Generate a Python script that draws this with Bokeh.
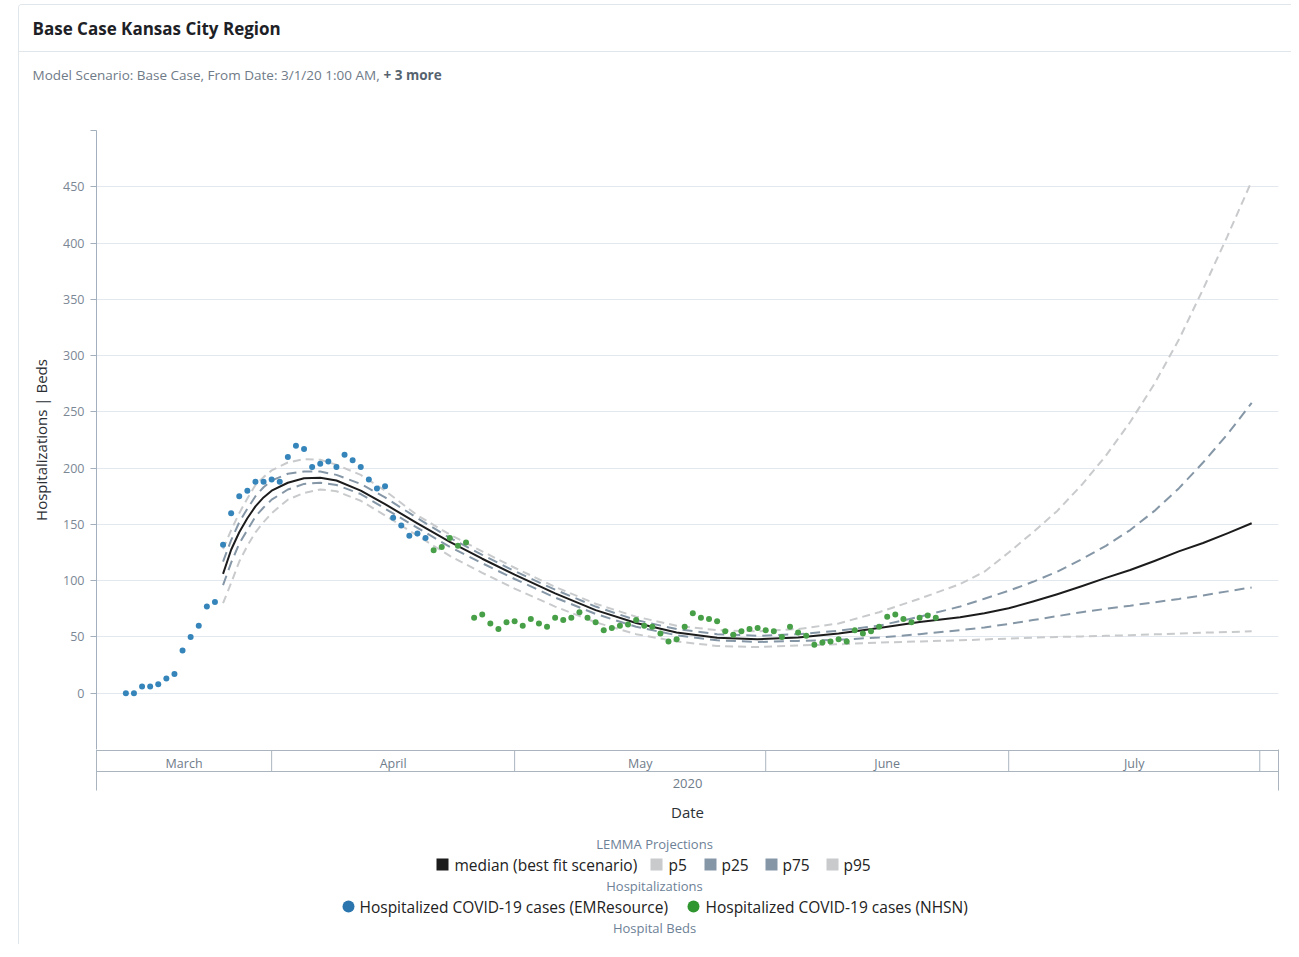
import pandas as pd
from datetime import datetime
from bokeh.plotting import figure
from bokeh.layouts import column
from bokeh.models import Range1d, FixedTicker, LinearAxis, ColumnDataSource
from bokeh.core.properties import value
from bokeh.embed import file_html
from bokeh.resources import INLINE

# ---------------- data ----------------
TITLE = "Base Case Kansas City Region"
SUBTITLE = "Model Scenario: Base Case, From Date: 3/1/20 1:00 AM,"
SUBTITLE_MORE = "+ 3 more"
Y_LABEL = "Hospitalizations | Beds"
X_LABEL = "Date"
YEAR_LABEL = "2020"

X_START = datetime(2020, 3, 10, 9, 0)
X_END = datetime(2020, 8, 3, 7, 30)
Y_TICKS = [-50, 0, 50, 100, 150, 200, 250, 300, 350, 400, 450, 500]
Y_UNLABELED = [-50, 500]

MONTH_NAMES = ["March", "April", "May", "June", "July"]
MONTH_STARTS = ["2020-03-01", "2020-04-01", "2020-05-01", "2020-06-01", "2020-07-01", "2020-08-01"]

EMR_START = "2020-03-14"
EMR_VALUES = [0, 0, 6, 6, 8, 13, 17, 38, 50, 60, 77, 81, 132, 160, 175, 180, 188, 188, 190, 188,
              210, 220, 217, 201, 204, 206, 201, 212, 207, 201, 190, 182, 184, 156, 149, 140, 142, 138]

NHSN_START = "2020-04-21"
NHSN_VALUES = [127, 130, 138, 131, 134, 67, 70, 62, 57, 63, 64, 60, 66, 62, 59, 67, 65, 67, 72, 67,
               63, 56, 58, 60, 61, 65, 60, 59, 53, 46, 48, 59, 71, 67, 66, 64, 55, 52, 55, 57,
               58, 56, 55, 50, 59, 54, 51, 43, 45, 46, 48, 46, 56, 53, 55, 59, 68, 70, 66, 63,
               67, 69, 67]

CURVE_DATES = ["2020-03-26", "2020-03-27", "2020-03-28", "2020-03-29", "2020-03-30", "2020-03-31",
               "2020-04-01", "2020-04-03", "2020-04-05", "2020-04-07", "2020-04-09", "2020-04-12",
               "2020-04-15", "2020-04-19", "2020-04-23", "2020-04-27",
               "2020-05-01", "2020-05-06", "2020-05-11", "2020-05-16", "2020-05-21", "2020-05-26",
               "2020-05-31",
               "2020-06-05", "2020-06-10", "2020-06-15", "2020-06-20", "2020-06-25", "2020-06-28",
               "2020-07-01", "2020-07-04", "2020-07-07", "2020-07-10", "2020-07-13", "2020-07-16",
               "2020-07-19", "2020-07-22", "2020-07-25", "2020-07-28", "2020-07-31"]
MEDIAN = [106, 127.5, 143, 155.5, 166, 174,
          180, 187, 191, 191.5, 189, 180, 168, 151, 134.5, 119.5,
          105.3, 88.7, 73.8, 62.4, 54, 49.3, 47.9,
          49.5, 53, 58, 63.3, 67.5, 71,
          75.5, 81.5, 88, 95, 102.5, 109.5, 117.5, 126, 133.5, 142, 151]
P95 = [128, 145, 160, 173, 185, 192,
       198, 205, 208, 207.5, 203, 194, 180, 158, 141, 126,
       111.5, 94.5, 79.5, 68, 60, 56, 55,
       57, 62, 72, 84, 97, 108,
       125, 143, 162, 185, 211, 241, 275, 314, 359, 406, 455]
P75 = [117, 136, 152, 164, 175, 183,
       189, 195, 197, 197, 194, 186, 174, 155.5, 138, 123,
       108.5, 92, 77, 65, 57, 52.5, 51,
       52.5, 55.5, 60, 68, 77, 84,
       91, 99, 108, 119, 131, 145, 162, 182, 205, 230, 258]
P25 = [96, 116, 133, 145, 157, 165,
       172, 181, 186, 187, 185, 177, 164, 147, 130, 115.5,
       101.5, 85, 70.5, 59, 51.5, 47, 45.5,
       46.5, 47.5, 49.5, 52.5, 56, 58.5,
       61.5, 65, 68.5, 72, 75, 77.8, 80.8, 83.8, 86.9, 90.5, 94]
P5 = [80, 98, 117, 131, 143, 152,
      160, 172, 178, 181, 179.5, 171, 158, 140, 122, 107,
      93, 77, 63, 52.5, 46, 42, 41,
      42.5, 43.5, 45, 46, 47, 47.8,
      48.6, 49.3, 50, 50.5, 51, 51.5, 52.3, 53, 53.8, 54.4, 55]

GROUP_TITLES = ["LEMMA Projections", "Hospitalizations", "Hospital Beds"]
PROJ_LABELS = ["median (best fit scenario)", "p5", "p25", "p75", "p95"]
HOSP_LABELS = ["Hospitalized COVID-19 cases (EMResource)", "Hospitalized COVID-19 cases (NHSN)"]

# ---------------- style ----------------
FONT_NAME = "Open Sans"
FONT = value(FONT_NAME)
BLUE = "#3585bb"
GREEN = "#47a047"
MED_C = "#1c1c1c"
DARK = "#8597a7"
LIGHT = "#c8cacc"
GRID = "#e3e8ee"
AXIS = "#a3afbc"
TICK_TXT = "#7b8794"
BOX = "#aab4bf"
GROUP_C = "#6d8196"
SEP = "#e1e6eb"

W = 1272
LB, RB = 77, 13
FRAME_X = (96, 1278)   # page pixels covered by the aligned plot frames
PAGE_X = (19, 1291)    # page pixels covered by a full-width, unaligned frame


def base(height, yr, xr=FRAME_X, lb=LB, rb=RB, **kw):
    f = figure(width=W, height=height, toolbar_location=None, output_backend="svg",
               x_axis_location=None, y_axis_location=None,
               x_range=xr if not isinstance(xr, tuple) else Range1d(*xr), y_range=Range1d(*yr),
               min_border_left=lb, min_border_right=rb, min_border_top=0, min_border_bottom=0,
               **kw)
    f.outline_line_color = None
    f.grid.grid_line_color = None
    f.background_fill_color = "white"
    f.border_fill_color = "white"
    return f


# ---------------- header (page coordinates, unaligned full-width frames) ----------------
hdr1 = base(47, (52, 5), xr=PAGE_X, lb=0, rb=0, frame_align=False,
            styles={"border-bottom": f"1px solid {SEP}"})
hdr1.text(x=[32], y=[28], text=[TITLE], text_font=FONT, text_font_style="bold",
          text_font_size="17px", text_baseline="middle", text_color="#1d2126")
hdr2 = base(47, (100, 53), xr=PAGE_X, lb=0, rb=0, frame_align=False)
hdr2.text(x=[32], y=[75], text=[SUBTITLE], text_font=FONT, text_font_size="13.5px",
          text_baseline="middle", text_color="#6f7b88")
hdr2.text(x=[383], y=[75], text=[SUBTITLE_MORE], text_font=FONT, text_font_size="13.5px",
          text_font_style="bold", text_baseline="middle", text_color="#56636f")

# ---------------- main chart ----------------
p = figure(width=W, height=650, x_range=Range1d(X_START, X_END), y_range=Range1d(-50, 500),
           x_axis_type="datetime", x_axis_location=None, toolbar_location=None,
           output_backend="svg", min_border_left=LB, min_border_right=RB,
           min_border_top=31, min_border_bottom=0)
p.outline_line_color = None
p.background_fill_color = "white"
p.xgrid.grid_line_color = None
p.ygrid.ticker = FixedTicker(ticks=Y_TICKS)
p.ygrid.grid_line_color = GRID
p.ygrid.grid_line_width = 1

ya = p.yaxis[0]
ya.ticker = FixedTicker(ticks=Y_TICKS)
ya.major_label_overrides = {t: "" for t in Y_UNLABELED}
ya.axis_line_color = AXIS
ya.major_tick_line_color = AXIS
ya.major_tick_out = 6
ya.major_tick_in = 0
ya.minor_tick_line_color = None
ya.major_label_standoff = 6
ya.major_label_text_font = FONT_NAME
ya.major_label_text_font_size = "12.5px"
ya.major_label_text_color = TICK_TXT
ya.axis_label = Y_LABEL
ya.axis_label_text_font = FONT_NAME
ya.axis_label_text_font_size = "15px"
ya.axis_label_text_font_style = "normal"
ya.axis_label_text_color = "#2a2e33"
ya.axis_label_standoff = 9

src = ColumnDataSource(dict(date=pd.to_datetime(CURVE_DATES), median=MEDIAN,
                            p5=P5, p25=P25, p75=P75, p95=P95))
p.line("date", "p95", source=src, line_color=LIGHT, line_width=2, line_dash="8 5")
p.line("date", "p5", source=src, line_color=LIGHT, line_width=2, line_dash="8 5")
p.line("date", "p75", source=src, line_color=DARK, line_width=2, line_dash="10 6")
p.line("date", "p25", source=src, line_color=DARK, line_width=2, line_dash="10 6")
p.line("date", "median", source=src, line_color=MED_C, line_width=2, line_join="round")

emr_dates = pd.date_range(EMR_START, periods=len(EMR_VALUES), freq="D")
nhsn_dates = pd.date_range(NHSN_START, periods=len(NHSN_VALUES), freq="D")
p.scatter(emr_dates, EMR_VALUES, size=6, fill_color=BLUE, line_color=None)
p.scatter(nhsn_dates, NHSN_VALUES, size=6, fill_color=GREEN, line_color=None)

# ---------------- month / year axis ----------------
ax = base(80, (80, 0), xr=p.x_range)
for loc in ("left", "right"):
    a = LinearAxis(ticker=FixedTicker(ticks=[]), bounds=(0, 41), axis_line_color=BOX,
                   major_tick_line_color=None, minor_tick_line_color=None,
                   major_label_text_font_size="0px")
    ax.add_layout(a, loc)

mb = list(pd.to_datetime(MONTH_STARTS))
xs, xe = pd.Timestamp(X_START), pd.Timestamp(X_END)
inner = [d for d in mb if xs < d < xe]
ax.segment(x0=inner, y0=[1] * len(inner), x1=inner, y1=[22] * len(inner),
           line_color=BOX, line_width=1)
ax.segment(x0=[xs, xs], y0=[1, 22], x1=[xe, xe], y1=[1, 22], line_color=BOX, line_width=1)

mid = []
for i in range(len(MONTH_NAMES)):
    a0 = max(mb[i], xs)
    a1 = min(mb[i + 1], xe)
    mid.append(a0 + (a1 - a0) / 2)
ax.text(x=mid, y=[14] * len(mid), text=MONTH_NAMES, text_font=FONT, text_font_size="12.5px",
        text_align="center", text_baseline="middle", text_color="#6f7c8a")
center = xs + (xe - xs) / 2
ax.text(x=[center], y=[34], text=[YEAR_LABEL], text_font=FONT, text_font_size="13px",
        text_align="center", text_baseline="middle", text_color="#6f7c8a")
ax.text(x=[center], y=[62.5], text=[X_LABEL], text_font=FONT, text_font_size="15px",
        text_align="center", text_baseline="middle", text_color="#2c3136")

# ---------------- legend (page coordinates) ----------------
leg = base(115, (945, 830))
leg.text(x=[654] * 3, y=[844, 886, 928], text=GROUP_TITLES, text_font=FONT, text_font_size="13px",
         text_align="center", text_baseline="middle", text_color=GROUP_C)

proj_colors = [MED_C, LIGHT, DARK, DARK, LIGHT]
proj_sw = [442, 656, 710, 771, 832]
proj_tx = [454, 668, 721, 782, 843]
leg.scatter(x=proj_sw, y=[865] * 5, marker="square", size=12, fill_color=proj_colors, line_color=None)
leg.text(x=proj_tx, y=[865] * 5, text=PROJ_LABELS, text_font=FONT, text_font_size="15.5px",
         text_baseline="middle", text_color="#222222")

hosp_colors = ["#2a75ae", "#2f952f"]
leg.scatter(x=[348, 693], y=[907, 907], marker="circle", size=12, fill_color=hosp_colors, line_color=None)
leg.text(x=[359, 705], y=[907, 907], text=HOSP_LABELS, text_font=FONT, text_font_size="15.5px",
         text_baseline="middle", text_color="#222222")

layout = column(hdr1, hdr2, p, ax, leg, spacing=0,
                styles={"margin-left": "18px", "margin-top": "4px",
                        "border-left": f"1px solid {SEP}", "border-top": f"1px solid {SEP}",
                        "border-top-left-radius": "4px"})

open("out.html", "w").write(file_html(layout, INLINE))
